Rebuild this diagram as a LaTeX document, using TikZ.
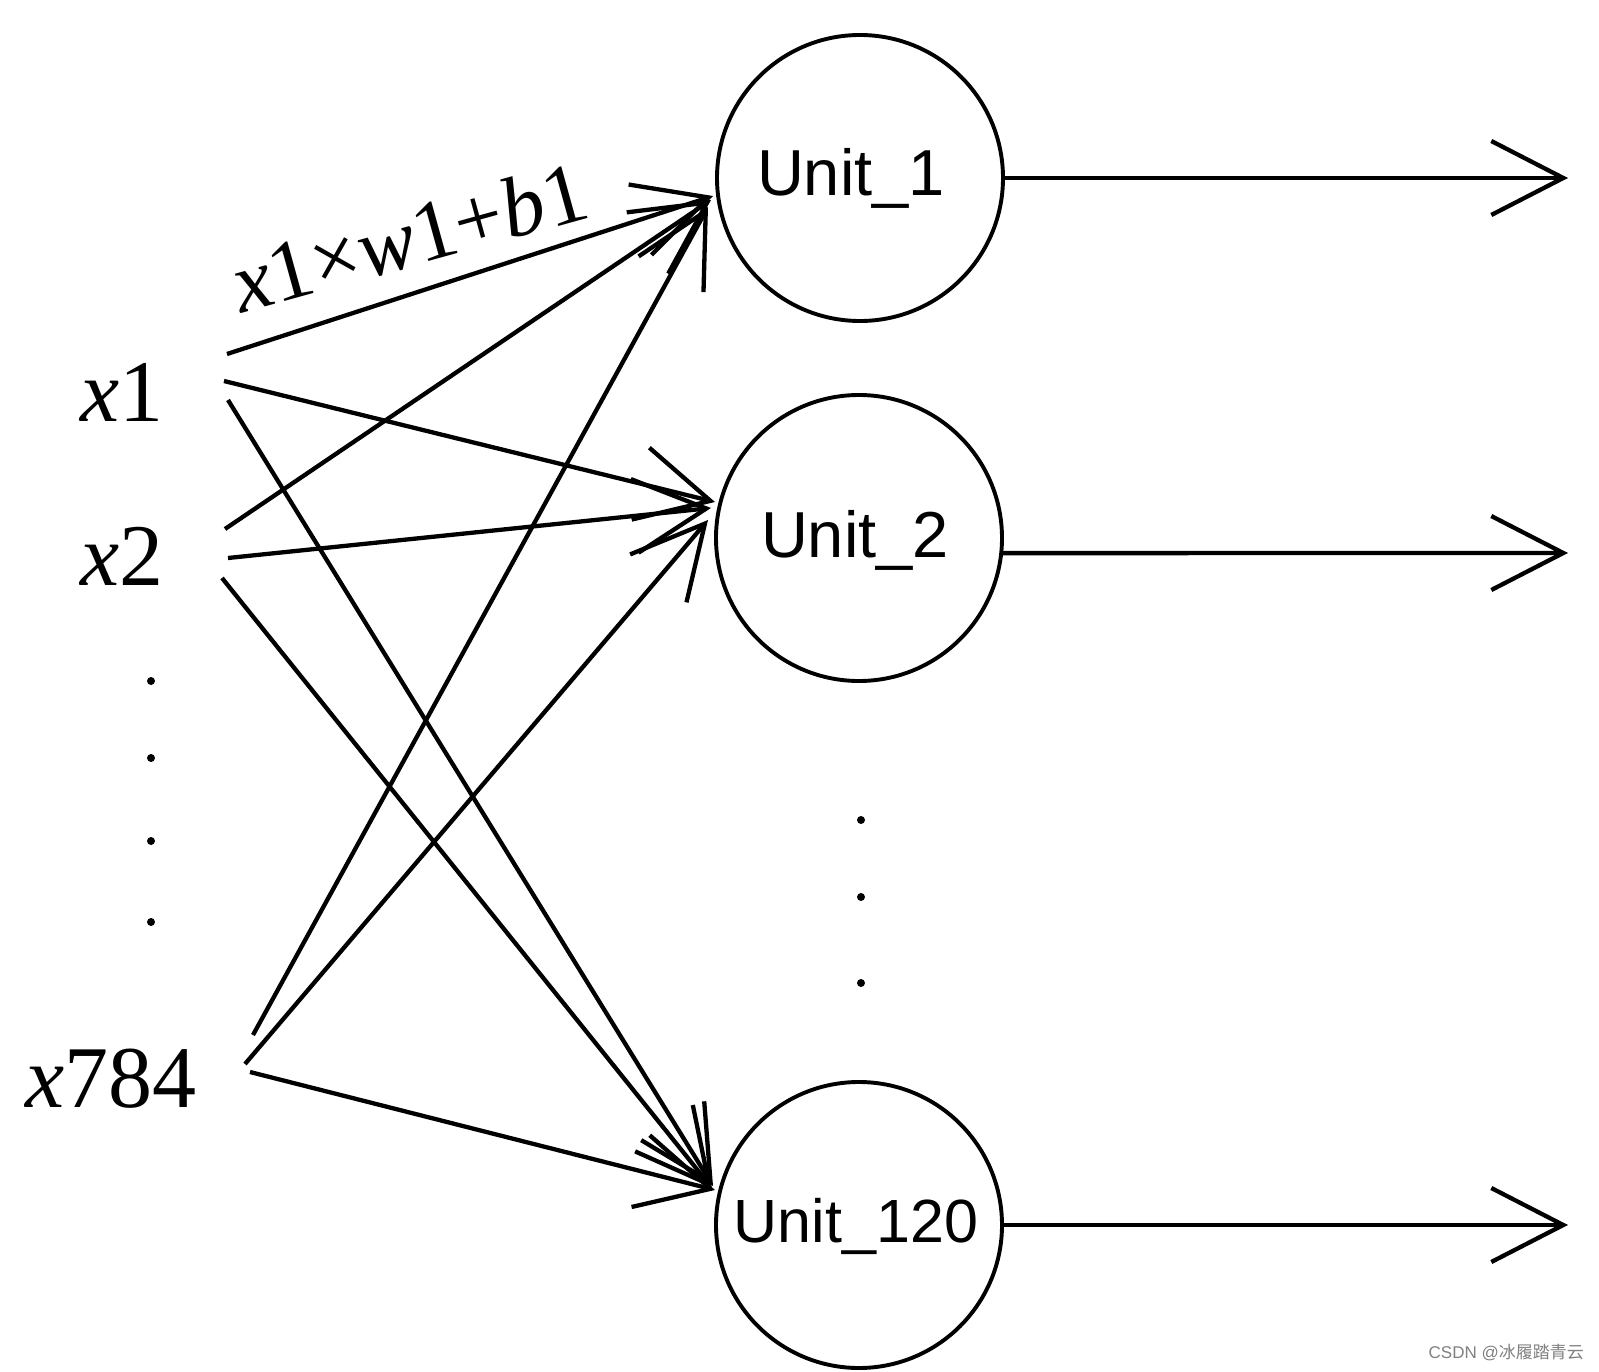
\documentclass[tikz,border=0pt]{standalone}
\usepackage{fontspec}
\setmainfont{Liberation Serif}
\newfontfamily\arialf{Liberation Sans}
\newfontfamily\cjkf{Noto Sans CJK SC}
\usetikzlibrary{arrows.meta}
\begin{document}
\begin{tikzpicture}[x=1pt,y=-1pt,
  unit/.style={circle,draw,line width=3.9pt,minimum size=286pt,inner sep=0pt},
  utext/.style={font=\arialf\fontsize{65}{70}\selectfont,anchor=base,inner sep=0pt},
  inlabel/.style={font=\fontsize{88}{92}\selectfont,anchor=base west,inner sep=0pt},
  conn/.style={line width=4.3pt,-{Straight Barb[length=72pt,width=74pt]}},
  dotmark/.style={circle,fill,inner sep=0pt,minimum size=8pt}]
\useasboundingbox (0,0) rectangle (1599,1372);
\fill[white] (0,0) rectangle (1599,1372);

% units
\node[unit] (u1) at (860,178) {};
\node[unit] (u2) at (859,538) {};
\node[unit] (u3) at (859,1225) {};
\node[utext] (t1) at (851,196) {Unit\_1};
\node[utext] (t2) at (855,557) {Unit\_2};
\node[utext,font=\arialf\fontsize{61}{66}\selectfont] (t3) at (856,1242) {Unit\_120};

% inputs
\node[inlabel] (x1) at (80,421) {\textit{x}1};
\node[inlabel] (x2) at (80,585) {\textit{x}2};
\node[inlabel] (x784) at (25,1107) {\textit{x}784};

% dots
\node[dotmark] (d1) at (151,681) {};
\node[dotmark] (d2) at (151,758) {};
\node[dotmark] (d3) at (151,841) {};
\node[dotmark] (d4) at (151,922) {};
\node[dotmark] (m1) at (861,820) {};
\node[dotmark] (m2) at (861,897) {};
\node[dotmark] (m3) at (861,983) {};

% start points
\coordinate (a11) at (227,354);
\coordinate (a12) at (224,381);
\coordinate (a13) at (228,400);
\coordinate (a21) at (225,529);
\coordinate (a22) at (228,558);
\coordinate (a23) at (222,578);
\coordinate (a31) at (253,1035);
\coordinate (a32) at (245,1064);
\coordinate (a33) at (250,1072);
% tip points
\coordinate (u1a) at (713,196);
\coordinate (u1b) at (711,200);
\coordinate (u1c) at (708,207);
\coordinate (u2a) at (715,502);
\coordinate (u2b) at (711,508);
\coordinate (u2c) at (708,520);
\coordinate (u3a) at (713,1186);
\coordinate (u3b) at (712,1188);
\coordinate (u3c) at (715,1190);
% output ends
\coordinate (o1) at (1568,178);
\coordinate (o2) at (1568,553);
\coordinate (o3) at (1568,1225);

\draw[conn] (a11) -- (u1a);
\draw[conn] (a12) -- (u2a);
\draw[conn] (a13) -- (u3a);
\draw[conn] (a21) -- (u1b);
\draw[conn] (a22) -- (u2b);
\draw[conn] (a23) -- (u3b);
\draw[conn] (a31) -- (u1c);
\draw[conn] (a32) -- (u2c);
\draw[conn] (a33) -- (u3c);

\draw[conn] (u1.east) -- (o1);
\draw[conn] (u2.-6) -- (o2);
\draw[conn] (u3.east) -- (o3);

% weight label
\node[font=\fontsize{86}{90}\selectfont,anchor=base west,inner sep=0pt,rotate=15.5] (lbl) at (241,314) {\textit{x}1×\textit{w}1+\textit{b}1};

% watermark
\node[font=\arialf\fontsize{17}{20}\selectfont,text=black!50,anchor=east,inner sep=0pt] (wm) at (1584,1353) {CSDN @{\cjkf 冰履踏青云}};
\end{tikzpicture}
\end{document}
